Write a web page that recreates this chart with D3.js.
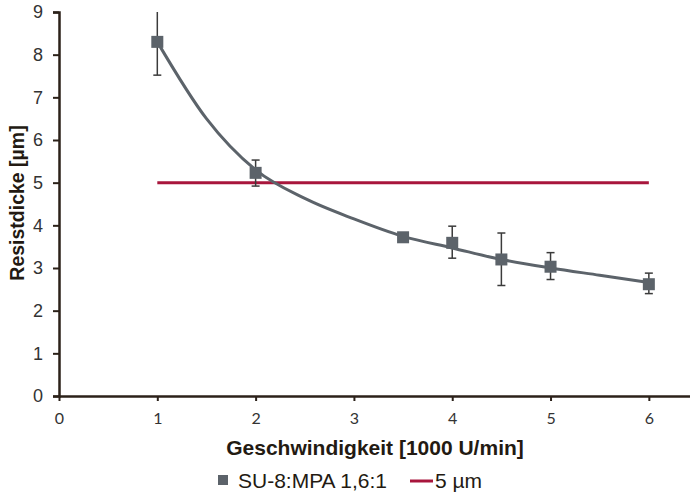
<!DOCTYPE html>
<html>
<head>
<meta charset="utf-8">
<script src="https://cdn.jsdelivr.net/npm/d3@7"></script>
<style>
  body { margin: 0; background: #fff; }
  svg { display: block; }
</style>
</head>
<body>
<svg id="chart" width="690" height="495"></svg>
<script>
// measured points (speed in 1000 rpm, thickness in µm, +- error)
var speeds = [1, 2, 3.5, 4, 4.5, 5, 6];
var thickness = [8.3, 5.23, 3.72, 3.59, 3.2, 3.03, 2.62];
var errLow = [7.52, 4.92, 3.64, 3.23, 2.59, 2.73, 2.4];
var errHigh = [9.0, 5.53, 3.82, 3.98, 3.82, 3.36, 2.88];

// trend line
var trendX = [1, 1.5, 2, 2.5, 3, 3.5, 4, 4.5, 5, 5.5, 6];
var trendY = [8.3, 6.5, 5.3, 4.63, 4.15, 3.74, 3.47, 3.2, 3.0, 2.83, 2.66];

// 5 µm reference line
var refX = [1, 6];
var refY = [5, 5];

var xTicks = [0, 1, 2, 3, 4, 5, 6];
var yTicks = [0, 1, 2, 3, 4, 5, 6, 7, 8, 9];

var svg = d3.select("#chart");
var axisColor = "#2b2119";
var grey = "#5c636a";
var red = "#a8163c";

var x = d3.scaleLinear().domain([0, 6.5]).range([59, 698]);
var y = d3.scaleLinear().domain([0, 9]).range([396, 12]);

// y axis
var yAxis = svg.append("g")
    .attr("transform", "translate(" + x(0) + ",0)")
    .call(d3.axisLeft(y).tickValues(yTicks).tickSize(6).tickPadding(10));
yAxis.select(".domain").attr("stroke", axisColor).attr("stroke-width", 2.5);
yAxis.selectAll(".tick line").attr("stroke", axisColor).attr("stroke-width", 2);
yAxis.selectAll(".tick text")
    .attr("fill", "#333")
    .style("font-family", "Liberation Sans, Arial, sans-serif")
    .style("font-size", "18px");

// x axis
var xAxis = svg.append("g")
    .attr("transform", "translate(0," + y(0) + ")")
    .call(d3.axisBottom(x).tickValues(xTicks).tickFormat(d3.format("d"))
        .tickSize(5).tickSizeOuter(0).tickPadding(12));
xAxis.select(".domain").attr("stroke", axisColor).attr("stroke-width", 2.5);
xAxis.selectAll(".tick line").attr("stroke", axisColor).attr("stroke-width", 2);
xAxis.selectAll(".tick text")
    .attr("fill", "#333")
    .style("font-family", "Lato, Open Sans, sans-serif")
    .style("font-size", "16px");

// axis titles
svg.append("text")
    .attr("transform", "translate(24,203) rotate(-90)")
    .attr("text-anchor", "middle")
    .style("font-family", "Liberation Sans, Arial, sans-serif")
    .style("font-size", "19.5px")
    .style("font-weight", "bold")
    .attr("fill", "#231a12")
    .text("Resistdicke [µm]");

svg.append("text")
    .attr("x", 375)
    .attr("y", 455)
    .attr("text-anchor", "middle")
    .style("font-family", "Liberation Sans, Arial, sans-serif")
    .style("font-size", "21px")
    .style("font-weight", "bold")
    .attr("fill", "#231a12")
    .text("Geschwindigkeit [1000 U/min]");

// reference line
var line = d3.line()
    .x(function(d) { return x(d[0]); })
    .y(function(d) { return y(d[1]); });

svg.append("path")
    .datum(d3.zip(refX, refY))
    .attr("d", line)
    .attr("fill", "none")
    .attr("stroke", red)
    .attr("stroke-width", 3);

// error bars
var points = speeds.map(function(s, i) {
    return { x: s, y: thickness[i], lo: errLow[i], hi: errHigh[i] };
});

var err = svg.append("g").attr("class", "errors")
    .selectAll("g")
    .data(points)
    .enter().append("g")
    .attr("stroke", "#3b3b3b")
    .attr("stroke-width", 1.5);

err.append("line")
    .attr("x1", function(d) { return x(d.x); })
    .attr("x2", function(d) { return x(d.x); })
    .attr("y1", function(d) { return y(d.lo); })
    .attr("y2", function(d) { return y(d.hi); });
err.append("line")
    .attr("x1", function(d) { return x(d.x) - 4; })
    .attr("x2", function(d) { return x(d.x) + 4; })
    .attr("y1", function(d) { return y(d.lo); })
    .attr("y2", function(d) { return y(d.lo); });
err.append("line")
    .filter(function(d) { return d.hi < 9; })
    .attr("x1", function(d) { return x(d.x) - 4; })
    .attr("x2", function(d) { return x(d.x) + 4; })
    .attr("y1", function(d) { return y(d.hi); })
    .attr("y2", function(d) { return y(d.hi); });

// trend curve
var curve = d3.line()
    .x(function(d) { return x(d[0]); })
    .y(function(d) { return y(d[1]); })
    .curve(d3.curveMonotoneX);

svg.append("path")
    .datum(d3.zip(trendX, trendY))
    .attr("d", curve)
    .attr("fill", "none")
    .attr("stroke", grey)
    .attr("stroke-width", 3);

// markers
svg.append("g").attr("class", "markers")
    .selectAll("rect")
    .data(points)
    .enter().append("rect")
    .attr("x", function(d) { return x(d.x) - 6; })
    .attr("y", function(d) { return y(d.y) - 6; })
    .attr("width", 12)
    .attr("height", 12)
    .attr("fill", grey);

// legend
var legend = svg.append("g")
    .style("font-family", "Liberation Sans, Arial, sans-serif")
    .style("font-size", "21px")
    .attr("fill", "#231a12");

legend.append("rect")
    .attr("x", 218).attr("y", 475)
    .attr("width", 10).attr("height", 10)
    .attr("fill", grey);
legend.append("text")
    .attr("x", 238).attr("y", 488)
    .text("SU-8:MPA 1,6:1");
legend.append("line")
    .attr("x1", 410).attr("x2", 433)
    .attr("y1", 481).attr("y2", 481)
    .attr("stroke", red)
    .attr("stroke-width", 3);
legend.append("text")
    .attr("x", 435).attr("y", 488)
    .text("5 µm");
</script>
</body>
</html>
